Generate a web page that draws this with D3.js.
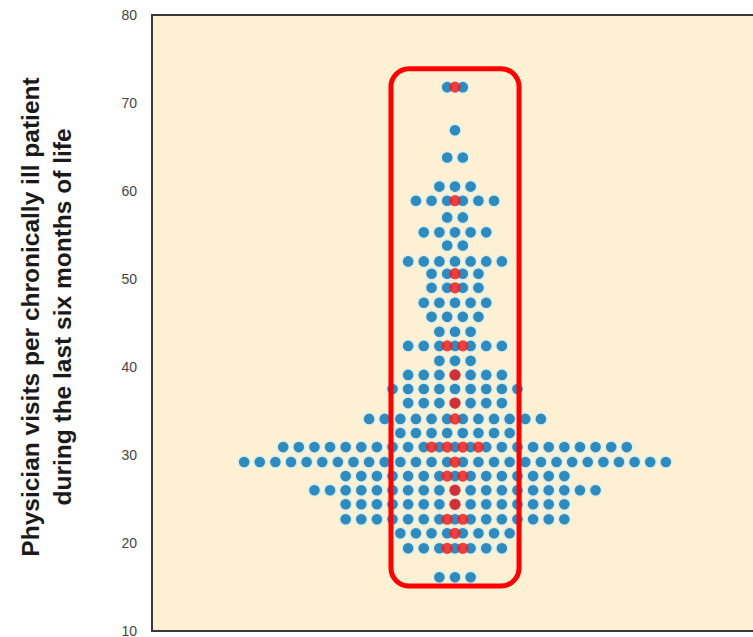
<!DOCTYPE html>
<html>
<head>
<meta charset="utf-8">
<script src="https://cdn.jsdelivr.net/npm/d3@7"></script>
<style>
    body { margin: 0; background: #ffffff; }
    svg { display: block; }
</style>
</head>
<body>
<div id="chart"></div>
<script>
// rows of the swarm: value of the row and number of blue dots in it
var rowValues = [71.8, 66.9, 63.8, 60.5, 58.9, 57.0, 55.3, 53.8, 52.0, 50.6, 49.0, 47.3, 45.7, 44.0, 42.4,
    40.7, 39.1, 37.5, 35.9, 34.1, 32.5, 30.9, 29.2, 27.6, 26.0, 24.4, 22.7, 21.1, 19.4, 16.1];
var rowCounts = [2, 1, 2, 3, 6, 2, 5, 2, 7, 4, 4, 5, 4, 3, 7,
    3, 7, 9, 7, 12, 8, 23, 28, 15, 19, 15, 15, 8, 7, 3];

// highlighted (red) dots: value and slot offset from the centre
var redValues = [71.8, 58.9, 50.6, 49.0, 42.4, 42.4, 39.1, 35.9, 34.1, 30.9, 30.9, 30.9, 30.9,
    29.2, 27.6, 27.6, 26.0, 24.4, 22.7, 22.7, 21.1, 19.4, 19.4];
var redSlots = [0, 0, 0, 0, -0.5, 0.5, 0, 0, 0, -1.5, -0.5, 0.5, 1.5,
    0, -0.5, 0.5, 0, 0, -0.5, 0.5, 0, -0.5, 0.5];

var yTicks = [10, 20, 30, 40, 50, 60, 70, 80];

// red box round the highlighted column
var boxSlots = [-4.1, 4.1];
var boxValues = [15.1, 73.9];

var titleLines = ["Physician visits per chronically ill patient", "during the last six months of life"];

function init() {
    var w = 753;
    var h = 637;
    var left = 152;
    var top = 15;
    var bottom = 631;

    var xScale = d3.scaleLinear().domain([-19.4, 19.4]).range([left, 758]);
    var yScale = d3.scaleLinear().domain([10, 80]).range([bottom, top]);

    var blueDots = [];
    rowValues.forEach(function(v, i) {
        var n = rowCounts[i];
        for (var k = 0; k < n; k++) {
            blueDots.push({ value: v, slot: k - (n - 1) / 2 });
        }
    });

    var redDots = redValues.map(function(v, i) {
        return { value: v, slot: redSlots[i] };
    });

    var svg = d3.select("#chart").append("svg").attr("width", w).attr("height", h);

    // panel
    svg
        .append("rect")
        .attr("x", left)
        .attr("y", top)
        .attr("width", 620)
        .attr("height", bottom - top)
        .attr("fill", "#fdf0d3")
        .attr("stroke", "#3a3a3a")
        .attr("stroke-width", 2);

    var yAxis = d3.axisLeft(yScale).tickValues(yTicks).tickSize(0).tickPadding(15);

    var gy = svg
        .append("g")
        .attr("transform", "translate(" + left + ", 0)")
        .call(yAxis);
    gy.select(".domain").remove();
    gy.selectAll("text")
        .attr("font-family", "Arial, 'Liberation Sans', sans-serif")
        .attr("font-size", 14)
        .attr("dy", "0.3em")
        .attr("fill", "#444");

    // axis title, two rotated lines
    svg
        .selectAll(".ytitle")
        .data(titleLines)
        .enter()
        .append("text")
        .attr("class", "ytitle")
        .attr("transform", function(d, i) {
            return "translate(" + (39 + i * 32) + ", 317) rotate(-90)";
        })
        .attr("text-anchor", "middle")
        .attr("font-family", "Arial, 'Liberation Sans', sans-serif")
        .attr("font-size", 24.5)
        .attr("font-weight", "bold")
        .attr("fill", "#1a1a1a")
        .text(function(d) {
            return d;
        });

    svg
        .selectAll(".blue")
        .data(blueDots)
        .enter()
        .append("circle")
        .attr("class", "blue")
        .attr("cx", function(d) {
            return xScale(d.slot);
        })
        .attr("cy", function(d) {
            return yScale(d.value);
        })
        .attr("r", 6)
        .attr("fill", "#2f8bbd")
        .attr("stroke", "#d6eef0")
        .attr("stroke-width", 1.4);

    svg
        .selectAll(".red")
        .data(redDots)
        .enter()
        .append("circle")
        .attr("class", "red")
        .attr("cx", function(d) {
            return xScale(d.slot);
        })
        .attr("cy", function(d) {
            return yScale(d.value);
        })
        .attr("r", 5.6)
        .attr("fill", "#ee2020")
        .attr("fill-opacity", 0.85);

    svg
        .append("rect")
        .attr("x", xScale(boxSlots[0]))
        .attr("y", yScale(boxValues[1]))
        .attr("width", xScale(boxSlots[1]) - xScale(boxSlots[0]))
        .attr("height", yScale(boxValues[0]) - yScale(boxValues[1]))
        .attr("rx", 18)
        .attr("fill", "none")
        .attr("stroke", "#ff0000")
        .attr("stroke-width", 5);
}

window.onload = init;
</script>
</body>
</html>
